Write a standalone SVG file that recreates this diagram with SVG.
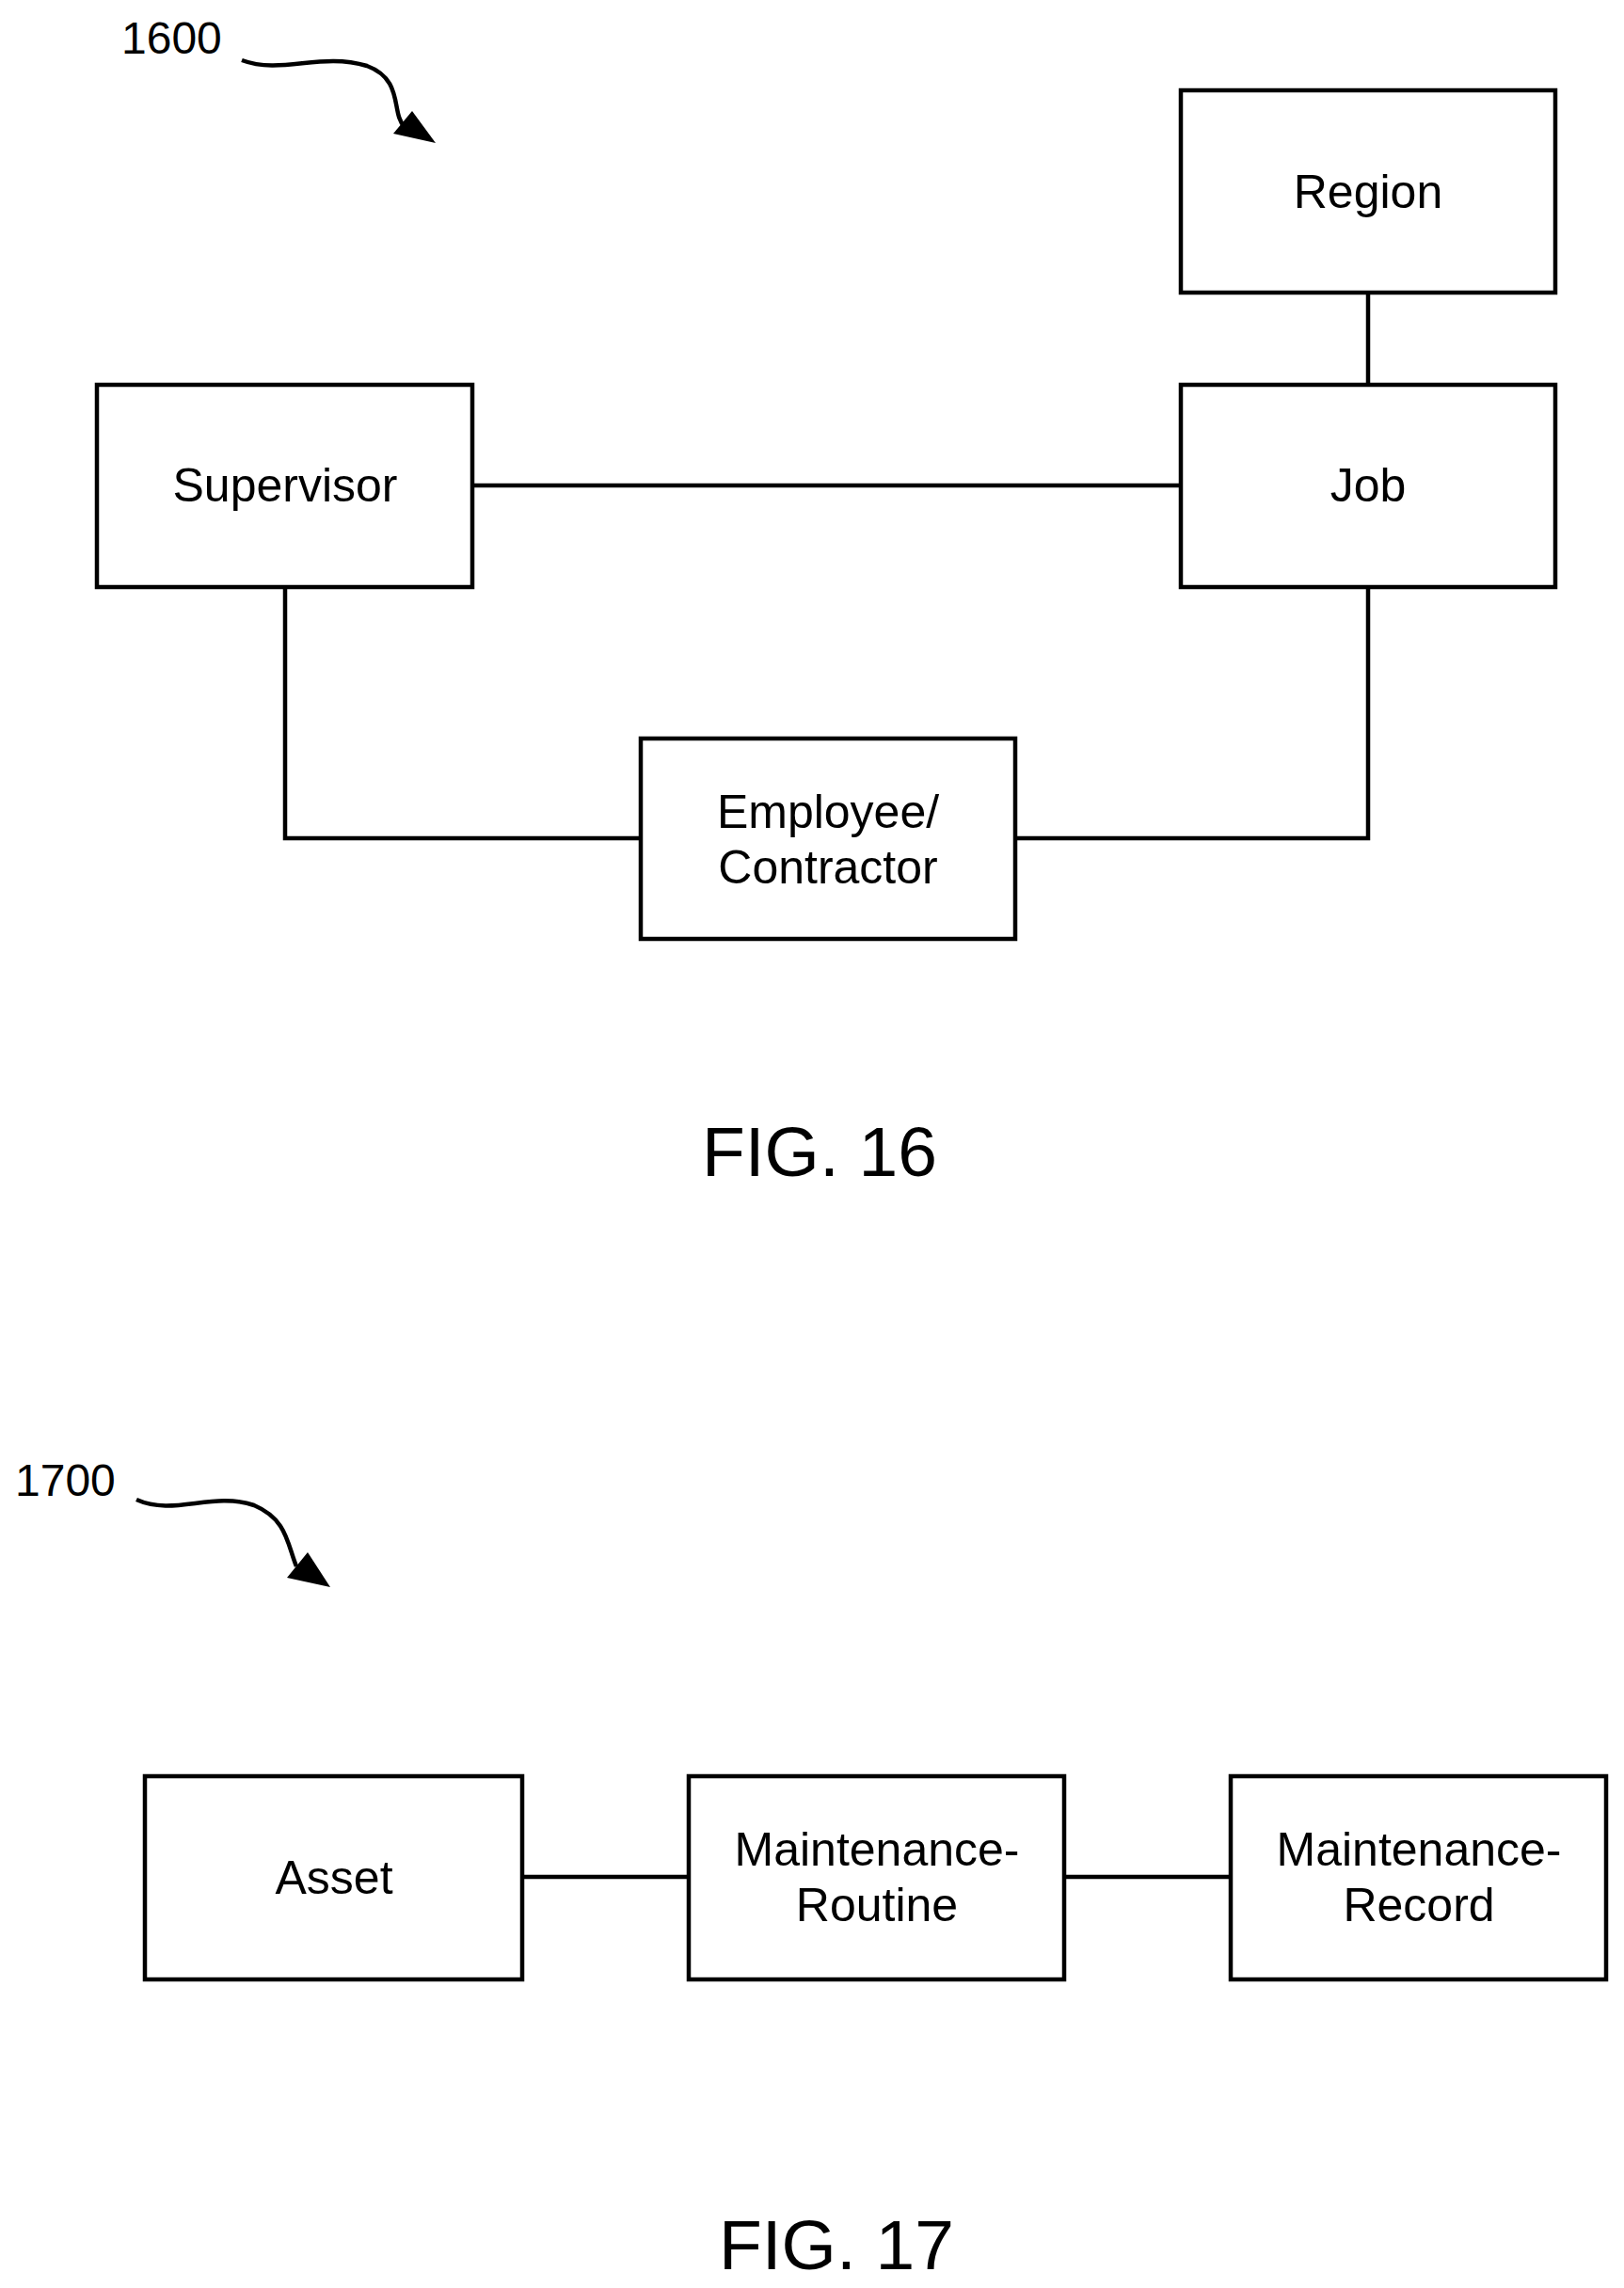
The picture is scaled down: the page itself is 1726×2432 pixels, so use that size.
<svg xmlns="http://www.w3.org/2000/svg" width="1726" height="2432" viewBox="0 0 1726 2432">
<style>
.b{fill:#fff;stroke:#000;stroke-width:4.5}
.l{fill:none;stroke:#000;stroke-width:4.5}
text{font-family:"Liberation Sans",Arial,sans-serif;fill:#000}
.t{font-size:50px;text-anchor:middle;dominant-baseline:central}
.f{font-size:75px;text-anchor:middle}
.r{font-size:48px}
</style>
<rect width="1726" height="2432" fill="#fff"/>
<text class="r" x="129" y="57">1600</text>
<path class="l" d="M257 64 C300 80 340 55 390 70 C430 85 415 120 430 135"/>
<polygon points="463,152 418,142 438,118"/>
<text class="r" x="16" y="1590">1700</text>
<path class="l" d="M145 1594 C185 1612 225 1585 270 1600 C305 1615 305 1640 315 1665"/>
<polygon points="351,1687 305,1677 327,1650"/>
<g id="connectors">
<line class="l" x1="1454" y1="311" x2="1454" y2="409"/>
<line class="l" x1="502" y1="516" x2="1255" y2="516"/>
<polyline class="l" points="303,624 303,891 681,891"/>
<polyline class="l" points="1079,891 1454,891 1454,624"/>
<line class="l" x1="555" y1="1995" x2="732" y2="1995"/>
<line class="l" x1="1131" y1="1995" x2="1308" y2="1995"/>
</g>
<g id="region"><rect class="b" x="1255" y="96" width="398" height="215"/><text class="t" x="1454" y="204">Region</text></g>
<g id="job"><rect class="b" x="1255" y="409" width="398" height="215"/><text class="t" x="1454" y="516">Job</text></g>
<g id="supervisor"><rect class="b" x="103" y="409" width="399" height="215"/><text class="t" x="303" y="516">Supervisor</text></g>
<g id="employee"><rect class="b" x="681" y="785" width="398" height="213"/><text class="t" x="880" y="863">Employee/</text><text class="t" x="880" y="922">Contractor</text></g>
<text class="f" x="871" y="1250">FIG. 16</text>
<g id="asset"><rect class="b" x="154" y="1888" width="401" height="216"/><text class="t" x="355" y="1996">Asset</text></g>
<g id="routine"><rect class="b" x="732" y="1888" width="399" height="216"/><text class="t" x="932" y="1966">Maintenance-</text><text class="t" x="932" y="2025">Routine</text></g>
<g id="record"><rect class="b" x="1308" y="1888" width="399" height="216"/><text class="t" x="1508" y="1966">Maintenance-</text><text class="t" x="1508" y="2025">Record</text></g>
<text class="f" x="889" y="2412">FIG. 17</text>
</svg>
